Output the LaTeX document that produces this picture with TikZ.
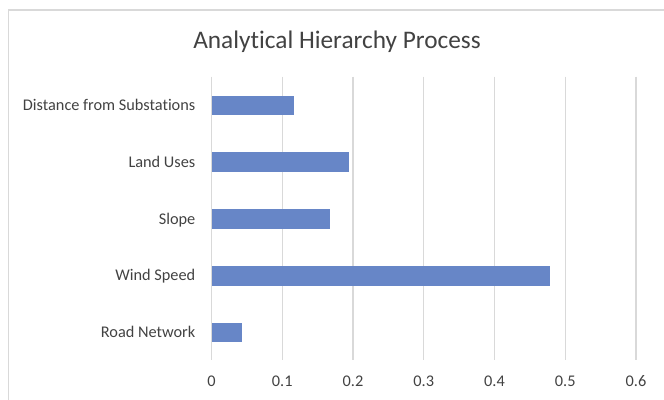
\documentclass[tikz,border=0pt]{standalone}
\usepackage{fontspec}
\setmainfont{Carlito}[Ligatures=NoCommon]
\definecolor{barblue}{RGB}{103,134,199}
\definecolor{gridgray}{RGB}{217,217,217}
\definecolor{textgray}{RGB}{66,66,66}
\tikzset{
  frame/.style={draw=gridgray, line width=1.2pt},
  gridline/.style={draw=gridgray, line width=1.2pt},
  bar/.style={fill=barblue, draw=none},
  catlabel/.style={anchor=base east, text=textgray, inner sep=0pt, font=\fontsize{16.3}{18}\selectfont},
  ticklabel/.style={anchor=base, text=textgray, inner sep=0pt, font=\fontsize{16.3}{18}\selectfont},
  charttitle/.style={anchor=base, text=textgray, inner sep=0pt, font=\fontsize{25.3}{28}\selectfont}
}

\begin{document}
\begin{tikzpicture}[x=1pt, y=-1pt]
  \useasboundingbox (0,0) rectangle (664,399);
  \draw[frame] (8.7,400) -- (8.7,10) -- (665,10);
  \node[charttitle] (title) at (337,48.3) {Analytical Hierarchy Process};
  % value axis
  \foreach \i/\t in {0/0, 1/0.1, 2/0.2, 3/0.3, 4/0.4, 5/0.5, 6/0.6} {
    \draw[gridline] ({211.5+70.75*\i},76.5) -- ({211.5+70.75*\i},360);
    \node[ticklabel] (tick\i) at ({211.5+70.75*\i},386.8) {\t};
  }
  % bars and categories
  \foreach \name/\txt/\val [count=\k from 0] in {dist/Distance from Substations/0.117, land/Land Uses/0.194, slope/Slope/0.167, wind/Wind Speed/0.478, road/Road Network/0.043} {
    \fill[bar] (211.5,{105.5+56.75*\k-9.8}) rectangle ({211.5+707.5*\val},{105.5+56.75*\k+9.8});
    \node[catlabel] (\name) at (195.5,{105.5+56.75*\k+5.2}) {\txt};
  }
\end{tikzpicture}
\end{document}
